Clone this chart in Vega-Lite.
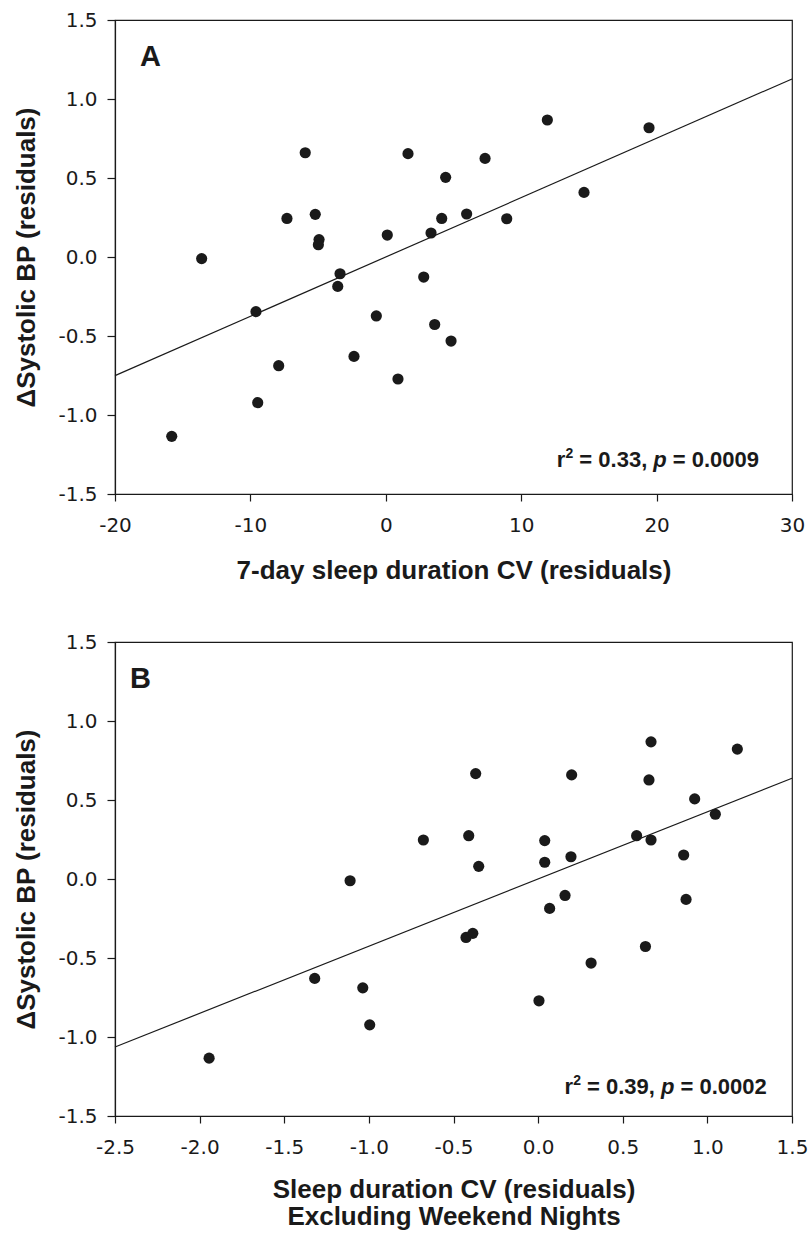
{
  "$schema": "https://vega.github.io/schema/vega-lite/v6.json",
  "background": "white",
  "padding": {"left": 13, "top": 9, "right": 0, "bottom": 5},
  "bounds": "flush",
  "spacing": 148,
  "config": {
    "view": {"stroke": "#1a1a1a", "strokeWidth": 1.2},
    "axis": {
      "grid": false,
      "domainColor": "#1a1a1a",
      "domainWidth": 1.2,
      "tickColor": "#1a1a1a",
      "tickWidth": 1.2,
      "labelFont": "DejaVu Sans",
      "labelFontSize": 20,
      "labelColor": "#1a1a1a",
      "labelFlush": false,
      "labelOverlap": false,
      "titleFont": "Liberation Sans",
      "titleFontSize": 26,
      "titleFontWeight": "bold",
      "titleColor": "#1a1a1a"
    },
    "axisX": {"tickSize": 7, "labelPadding": 14, "titlePadding": 22},
    "axisY": {"tickSize": 8, "labelPadding": 10, "titlePadding": 18}
  },
  "vconcat": [
    {
      "width": 677,
      "height": 474,
      "layer": [
        {
          "data": {"values": [
            {"cv": -13.6, "sbp": -0.01},
            {"cv": -5.95, "sbp": 0.66},
            {"cv": -7.3, "sbp": 0.244},
            {"cv": -5.21, "sbp": 0.27},
            {"cv": -4.93, "sbp": 0.11},
            {"cv": -4.98, "sbp": 0.078},
            {"cv": 0.11, "sbp": 0.139},
            {"cv": -3.38, "sbp": -0.106},
            {"cv": -3.55, "sbp": -0.186},
            {"cv": 1.64, "sbp": 0.654},
            {"cv": 11.93, "sbp": 0.867},
            {"cv": 19.44, "sbp": 0.818},
            {"cv": 7.33, "sbp": 0.624},
            {"cv": 4.42, "sbp": 0.504},
            {"cv": 14.64, "sbp": 0.409},
            {"cv": 4.13, "sbp": 0.244},
            {"cv": 5.97, "sbp": 0.272},
            {"cv": 8.93, "sbp": 0.242},
            {"cv": 3.34, "sbp": 0.152},
            {"cv": 2.8, "sbp": -0.127},
            {"cv": -9.59, "sbp": -0.346},
            {"cv": -0.7, "sbp": -0.373},
            {"cv": -2.35, "sbp": -0.629},
            {"cv": -7.91, "sbp": -0.688},
            {"cv": -9.46, "sbp": -0.922},
            {"cv": -15.81, "sbp": -1.135},
            {"cv": 0.9, "sbp": -0.772},
            {"cv": 3.61, "sbp": -0.427},
            {"cv": 4.82, "sbp": -0.532}
          ]},
          "mark": {"type": "circle", "size": 125, "opacity": 1, "color": "#1a1a1a"},
          "encoding": {
            "x": {"field": "cv", "type": "quantitative",
                  "scale": {"domain": [-20, 30], "nice": false, "zero": false},
                  "axis": {"values": [-20, -10, 0, 10, 20, 30], "labelExpr": "replace(format(datum.value, 'd'), '\u2212', '-')", "title": "7-day sleep duration CV (residuals)"}},
            "y": {"field": "sbp", "type": "quantitative",
                  "scale": {"domain": [-1.5, 1.5], "nice": false, "zero": false},
                  "axis": {"values": [-1.5, -1, -0.5, 0, 0.5, 1, 1.5], "labelExpr": "replace(format(datum.value, '.1f'), '\u2212', '-')", "title": "ΔSystolic BP (residuals)"}}
          }
        },
        {
          "data": {"values": [{"cv": -20, "sbp": -0.751}, {"cv": 30, "sbp": 1.127}]},
          "mark": {"type": "line", "color": "#1a1a1a", "strokeWidth": 1.2},
          "encoding": {
            "x": {"field": "cv", "type": "quantitative"},
            "y": {"field": "sbp", "type": "quantitative"}
          }
        },
        {
          "data": {"values": [{"cv": -18.15, "sbp": 1.206, "label": "A"}]},
          "mark": {"type": "text", "align": "left", "baseline": "alphabetic", "font": "Liberation Sans", "fontSize": 29, "fontWeight": "bold", "color": "#1a1a1a"},
          "encoding": {
            "x": {"field": "cv", "type": "quantitative"},
            "y": {"field": "sbp", "type": "quantitative"},
            "text": {"field": "label"}
          }
        },
        {
          "data": {"values": [
            {"cv": 13.26, "sbp": -1.329, "label": "r"},
            {"cv": 19.31, "sbp": -1.329, "label": "= 0.33,"},
            {"cv": 27.56, "sbp": -1.329, "label": "= 0.0009"}
          ]},
          "mark": {"type": "text", "align": "right", "baseline": "alphabetic", "font": "Liberation Sans", "fontSize": 22, "fontWeight": "bold", "color": "#1a1a1a"},
          "encoding": {
            "x": {"field": "cv", "type": "quantitative"},
            "y": {"field": "sbp", "type": "quantitative"},
            "text": {"field": "label"}
          }
        },
        {
          "data": {"values": [{"cv": 13.84, "sbp": -1.272, "label": "2"}]},
          "mark": {"type": "text", "align": "right", "baseline": "alphabetic", "font": "Liberation Sans", "fontSize": 14, "fontWeight": "bold", "color": "#1a1a1a"},
          "encoding": {
            "x": {"field": "cv", "type": "quantitative"},
            "y": {"field": "sbp", "type": "quantitative"},
            "text": {"field": "label"}
          }
        },
        {
          "data": {"values": [{"cv": 20.75, "sbp": -1.329, "label": "p"}]},
          "mark": {"type": "text", "align": "right", "baseline": "alphabetic", "font": "Liberation Sans", "fontSize": 22, "fontWeight": "bold", "fontStyle": "italic", "color": "#1a1a1a"},
          "encoding": {
            "x": {"field": "cv", "type": "quantitative"},
            "y": {"field": "sbp", "type": "quantitative"},
            "text": {"field": "label"}
          }
        }
      ]
    },
    {
      "width": 677,
      "height": 474,
      "layer": [
        {
          "data": {"values": [
            {"cv": -1.111, "sbp": -0.011},
            {"cv": 0.667, "sbp": 0.868},
            {"cv": 1.177, "sbp": 0.822},
            {"cv": -0.369, "sbp": 0.667},
            {"cv": 0.198, "sbp": 0.659},
            {"cv": 0.655, "sbp": 0.627},
            {"cv": 0.925, "sbp": 0.507},
            {"cv": 1.047, "sbp": 0.41},
            {"cv": -0.678, "sbp": 0.247},
            {"cv": -0.41, "sbp": 0.274},
            {"cv": -0.351, "sbp": 0.08},
            {"cv": 0.039, "sbp": 0.243},
            {"cv": 0.039, "sbp": 0.106},
            {"cv": 0.194, "sbp": 0.141},
            {"cv": 0.582, "sbp": 0.274},
            {"cv": 0.667, "sbp": 0.247},
            {"cv": 0.86, "sbp": 0.152},
            {"cv": 0.159, "sbp": -0.104},
            {"cv": 0.068, "sbp": -0.186},
            {"cv": 0.874, "sbp": -0.129},
            {"cv": -1.32, "sbp": -0.629},
            {"cv": -1.036, "sbp": -0.689},
            {"cv": -0.995, "sbp": -0.923},
            {"cv": -1.944, "sbp": -1.134},
            {"cv": -0.426, "sbp": -0.37},
            {"cv": -0.386, "sbp": -0.344},
            {"cv": 0.634, "sbp": -0.427},
            {"cv": 0.313, "sbp": -0.532},
            {"cv": 0.005, "sbp": -0.771}
          ]},
          "mark": {"type": "circle", "size": 125, "opacity": 1, "color": "#1a1a1a"},
          "encoding": {
            "x": {"field": "cv", "type": "quantitative",
                  "scale": {"domain": [-2.5, 1.5], "nice": false, "zero": false},
                  "axis": {"values": [-2.5, -2, -1.5, -1, -0.5, 0, 0.5, 1, 1.5], "labelExpr": "replace(format(datum.value, '.1f'), '\u2212', '-')", "titlePadding": 19, "titleLineHeight": 27,
                           "title": ["Sleep duration CV (residuals)", "Excluding Weekend Nights"]}},
            "y": {"field": "sbp", "type": "quantitative",
                  "scale": {"domain": [-1.5, 1.5], "nice": false, "zero": false},
                  "axis": {"values": [-1.5, -1, -0.5, 0, 0.5, 1, 1.5], "labelExpr": "replace(format(datum.value, '.1f'), '\u2212', '-')", "title": "ΔSystolic BP (residuals)"}}
          }
        },
        {
          "data": {"values": [{"cv": -2.5, "sbp": -1.063}, {"cv": 1.5, "sbp": 0.638}]},
          "mark": {"type": "line", "color": "#1a1a1a", "strokeWidth": 1.2},
          "encoding": {
            "x": {"field": "cv", "type": "quantitative"},
            "y": {"field": "sbp", "type": "quantitative"}
          }
        },
        {
          "data": {"values": [{"cv": -2.411, "sbp": 1.208, "label": "B"}]},
          "mark": {"type": "text", "align": "left", "baseline": "alphabetic", "font": "Liberation Sans", "fontSize": 29, "fontWeight": "bold", "color": "#1a1a1a"},
          "encoding": {
            "x": {"field": "cv", "type": "quantitative"},
            "y": {"field": "sbp", "type": "quantitative"},
            "text": {"field": "label"}
          }
        },
        {
          "data": {"values": [
            {"cv": 0.2068, "sbp": -1.358, "label": "r"},
            {"cv": 0.690, "sbp": -1.358, "label": "= 0.39,"},
            {"cv": 1.3507, "sbp": -1.358, "label": "= 0.0002"}
          ]},
          "mark": {"type": "text", "align": "right", "baseline": "alphabetic", "font": "Liberation Sans", "fontSize": 22, "fontWeight": "bold", "color": "#1a1a1a"},
          "encoding": {
            "x": {"field": "cv", "type": "quantitative"},
            "y": {"field": "sbp", "type": "quantitative"},
            "text": {"field": "label"}
          }
        },
        {
          "data": {"values": [{"cv": 0.2529, "sbp": -1.301, "label": "2"}]},
          "mark": {"type": "text", "align": "right", "baseline": "alphabetic", "font": "Liberation Sans", "fontSize": 14, "fontWeight": "bold", "color": "#1a1a1a"},
          "encoding": {
            "x": {"field": "cv", "type": "quantitative"},
            "y": {"field": "sbp", "type": "quantitative"},
            "text": {"field": "label"}
          }
        },
        {
          "data": {"values": [{"cv": 0.8053, "sbp": -1.358, "label": "p"}]},
          "mark": {"type": "text", "align": "right", "baseline": "alphabetic", "font": "Liberation Sans", "fontSize": 22, "fontWeight": "bold", "fontStyle": "italic", "color": "#1a1a1a"},
          "encoding": {
            "x": {"field": "cv", "type": "quantitative"},
            "y": {"field": "sbp", "type": "quantitative"},
            "text": {"field": "label"}
          }
        }
      ]
    }
  ]
}
